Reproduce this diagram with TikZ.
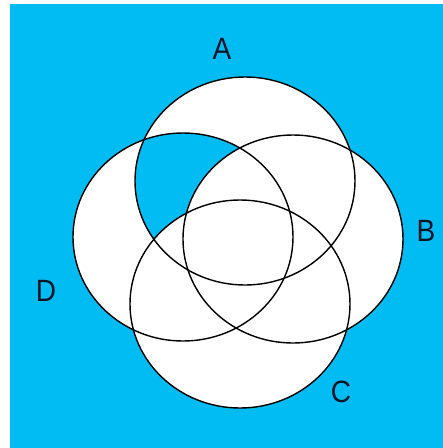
\documentclass[tikz,border=0pt]{standalone}
\usepackage{fontspec}
\setmainfont{Liberation Sans}
\definecolor{bgblue}{RGB}{0,188,242}
\definecolor{labelc}{RGB}{10,20,40}
\tikzset{
  setline/.style={draw=black, line width=1.4pt},
  setlabel/.style={text=labelc, font=\fontsize{28}{28}\selectfont, inner sep=0pt, anchor=center, yscale=1.1}
}
\begin{document}
\begin{tikzpicture}[x=1pt,y=-1pt]
  \useasboundingbox (0,0) rectangle (443,448);
  \fill[white] (0,0) rectangle (443,448);
  \fill[bgblue] (10,4) rectangle (443,448);
  % white fill of the union
  \fill[white] (245,181) ellipse [x radius=110, y radius=104];
  \fill[white] (293,239) ellipse [x radius=110, y radius=104];
  \fill[white] (240,304) ellipse [x radius=110, y radius=104];
  \fill[white] (183,237) ellipse [x radius=110, y radius=104];
  % shaded region: A and D, not B, not C
  \begin{scope}
    \clip (245,181) ellipse [x radius=110, y radius=104];
    \clip (183,237) ellipse [x radius=110, y radius=104];
    \fill[bgblue] (0,0) rectangle (443,448);
    \fill[white] (293,239) ellipse [x radius=110, y radius=104];
    \fill[white] (240,304) ellipse [x radius=110, y radius=104];
  \end{scope}
  % outlines
  \draw[setline] (245,181) ellipse [x radius=110, y radius=104];
  \draw[setline] (293,239) ellipse [x radius=110, y radius=104];
  \draw[setline] (240,304) ellipse [x radius=110, y radius=104];
  \draw[setline] (183,237) ellipse [x radius=110, y radius=104];
  % labels
  \node[setlabel] (la) at (222,49) {A};
  \node[setlabel] (lb) at (426,231) {B};
  \node[setlabel] (lc) at (341,392) {C};
  \node[setlabel] (ld) at (46,291) {D};
\end{tikzpicture}
\end{document}
